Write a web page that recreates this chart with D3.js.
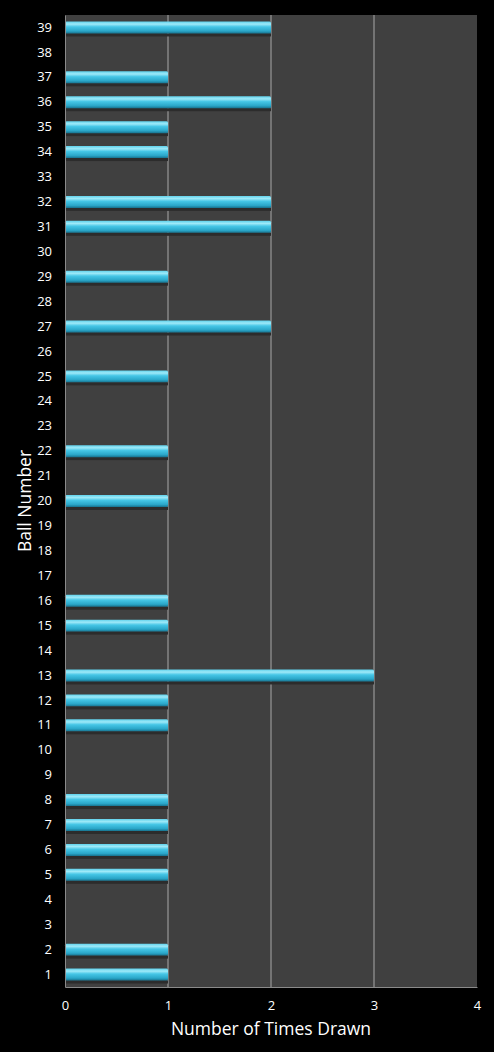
<!DOCTYPE html>
<html lang="en">
<head>
<meta charset="UTF-8">
<title>Ball Number Frequency</title>
<script src="https://d3js.org/d3.v7.min.js"></script>
<style>
  html, body { margin: 0; padding: 0; background: #000; }
  svg { display: block; font-family: "Open Sans", "DejaVu Sans", sans-serif; }
  .tick text { fill: #fff; }
</style>
</head>
<body>
<div id="chart"></div>
<script>
// ball numbers 1..39 and how often each was drawn
const balls = d3.range(1, 40).map(String);
const timesDrawn = [1, 1, 0, 0, 1, 1, 1, 1, 0, 0,
                    1, 1, 3, 0, 1, 1, 0, 0, 0, 1,
                    0, 1, 0, 0, 1, 0, 2, 0, 1, 0,
                    2, 2, 0, 1, 1, 2, 1, 0, 2];
const xTicks = [0, 1, 2, 3, 4];

const W = 494, H = 1052;
const margin = {top: 15, right: 17, bottom: 65, left: 65};
const width = W - margin.left - margin.right;
const height = H - margin.top - margin.bottom;

const svg = d3.select("#chart").append("svg")
    .attr("width", W)
    .attr("height", H);

const defs = svg.append("defs");
const grad = defs.append("linearGradient")
    .attr("id", "barGrad")
    .attr("x1", 0).attr("y1", 0).attr("x2", 0).attr("y2", 1);
grad.append("stop").attr("offset", "0%").attr("stop-color", "#5fd2ec");
grad.append("stop").attr("offset", "22%").attr("stop-color", "#9ee9f8");
grad.append("stop").attr("offset", "45%").attr("stop-color", "#45c6e6");
grad.append("stop").attr("offset", "80%").attr("stop-color", "#2aa6c8");
grad.append("stop").attr("offset", "100%").attr("stop-color", "#17728e");

const g = svg.append("g")
    .attr("transform", `translate(${margin.left},${margin.top})`);

const x = d3.scaleLinear().domain([0, 4]).range([0, width]);
const y = d3.scaleBand()
    .domain(balls)
    .range([height, 0])
    .paddingInner(0.52)
    .paddingOuter(0.26);

// plot area
g.append("rect")
    .attr("width", width)
    .attr("height", height)
    .attr("fill", "#404040");

// grid lines
g.selectAll(".grid")
    .data(xTicks.slice(1, -1))
    .enter().append("line")
    .attr("x1", d => x(d)).attr("x2", d => x(d))
    .attr("y1", 0).attr("y2", height)
    .attr("stroke", "#a8a8a8")
    .attr("stroke-width", 1);

const data = balls.map((b, i) => ({ball: b, value: timesDrawn[i]}));
const drawn = data.filter(d => d.value > 0);

// shadows under bars
g.selectAll(".shadow")
    .data(drawn)
    .enter().append("rect")
    .attr("x", 0)
    .attr("y", d => y(d.ball) + y.bandwidth())
    .attr("width", d => x(d.value))
    .attr("height", 3)
    .attr("fill", "#2c2c2c");

// bars
g.selectAll(".bar")
    .data(drawn)
    .enter().append("rect")
    .attr("x", 0)
    .attr("y", d => y(d.ball))
    .attr("width", d => x(d.value))
    .attr("height", y.bandwidth())
    .attr("rx", 1.5)
    .attr("fill", "url(#barGrad)");

// axes
const xAxis = g.append("g")
    .attr("transform", `translate(0,${height})`)
    .call(d3.axisBottom(x).tickValues(xTicks).tickFormat(d3.format("d")).tickSize(0).tickPadding(14))
    .attr("font-family", "'Open Sans', 'DejaVu Sans', sans-serif");
xAxis.select(".domain").attr("stroke", "#8a8a8a");
xAxis.selectAll("text").style("font-size", "13px");

const yAxis = g.append("g")
    .call(d3.axisLeft(y).tickSize(0).tickPadding(13))
    .attr("font-family", "'Open Sans', 'DejaVu Sans', sans-serif");
yAxis.select(".domain").attr("stroke", "#8a8a8a");
yAxis.selectAll("text").style("font-size", "13px");

// axis titles
svg.append("text")
    .attr("x", margin.left + width / 2)
    .attr("y", 1035)
    .attr("text-anchor", "middle")
    .attr("fill", "#fff")
    .style("font-size", "17.5px")
    .text("Number of Times Drawn");

svg.append("text")
    .attr("transform", `translate(31,${margin.top + height / 2}) rotate(-90)`)
    .attr("text-anchor", "middle")
    .attr("fill", "#fff")
    .style("font-size", "17.5px")
    .text("Ball Number");
</script>
</body>
</html>
